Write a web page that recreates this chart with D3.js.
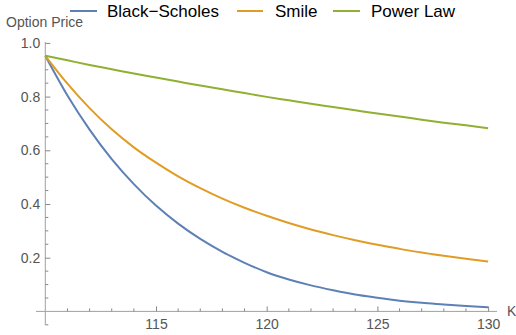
<!DOCTYPE html>
<html><head><meta charset="utf-8">
<script src="https://cdn.jsdelivr.net/npm/d3@7"></script>
<style>body{margin:0;background:#fff}svg{display:block}</style>
</head><body>
<svg id="c" width="516" height="335"></svg>
<script>
const strikes = [110,111,112,113,114,115,116,117,118,119,120,121,122,123,124,125,126,127,128,129,130];
const blackScholes = [0.952,0.804,0.677,0.567,0.474,0.394,0.327,0.270,0.222,0.181,0.146,0.119,0.097,0.079,0.063,0.051,0.040,0.032,0.026,0.020,0.015];
const smile = [0.952,0.848,0.757,0.678,0.611,0.554,0.503,0.459,0.420,0.386,0.356,0.329,0.305,0.284,0.265,0.248,0.233,0.219,0.207,0.196,0.186];
const powerLaw = [0.952,0.935,0.918,0.902,0.886,0.871,0.856,0.841,0.827,0.813,0.799,0.786,0.773,0.761,0.749,0.737,0.726,0.714,0.703,0.693,0.682];
const seriesNames = ["Black\u2212Scholes","Smile","Power Law"];
const seriesColors = ["#5E81B5","#E19C24","#8FB032"];
const xMajor = [115,120,125,130];
const yMajor = [0.2,0.4,0.6,0.8,1.0];

const svg = d3.select("#c");
const x = d3.scaleLinear().domain([110,130]).range([45.3,488.1]);
const y = d3.scaleLinear().domain([0,1]).range([311.4,42.9]);
const axisColor = "#a0a0a0", labelColor = "#555";
const font = "'Liberation Sans', Arial, sans-serif";

// axis lines
svg.append("line").attr("x1",36).attr("x2",497).attr("y1",y(0)).attr("y2",y(0))
  .attr("stroke",axisColor).attr("stroke-width",1);
svg.append("line").attr("x1",x(110)).attr("x2",x(110)).attr("y1",y(1.003)).attr("y2",y(-0.05))
  .attr("stroke",axisColor).attr("stroke-width",1);

// x axis ticks
const xMinor = d3.range(111,131,1).filter(v=>v%5!==0);
const xAx = svg.append("g").attr("transform",`translate(0,${y(0)})`);
xAx.call(d3.axisBottom(x).tickValues(xMajor).tickSizeInner(-5).tickSizeOuter(0).tickPadding(8).tickFormat(d3.format("d")));
xAx.select(".domain").remove();
xAx.selectAll(".tick line").attr("stroke","#888");
xAx.selectAll("text").attr("fill",labelColor).style("font-family",font).style("font-size","14px");
xAx.selectAll(".minor").data(xMinor).enter().append("line")
  .attr("x1",d=>x(d)).attr("x2",d=>x(d)).attr("y1",0).attr("y2",-3).attr("stroke","#888");

// y axis ticks
const yMinorVals = d3.range(-1,20,1).map(i=>i*0.05).filter(v=>Math.abs(Math.round(v*20)%4)!==0);
const yAx = svg.append("g").attr("transform",`translate(${x(110)},0)`);
yAx.call(d3.axisLeft(y).tickValues(yMajor).tickSizeInner(-5).tickSizeOuter(0).tickPadding(5).tickFormat(d3.format(".1f")));
yAx.select(".domain").remove();
yAx.selectAll(".tick line").attr("stroke","#888");
yAx.selectAll("text").attr("fill",labelColor).style("font-family",font).style("font-size","14px");
yAx.selectAll(".minor").data(yMinorVals).enter().append("line")
  .attr("x1",0).attr("x2",3).attr("y1",d=>y(d)).attr("y2",d=>y(d)).attr("stroke","#888");

// axis labels
svg.append("text").attr("x",6).attr("y",27.3).attr("fill",labelColor)
  .style("font-family",font).style("font-size","14px").text("Option Price");
svg.append("text").attr("x",507).attr("y",316).attr("fill",labelColor)
  .style("font-family",font).style("font-size","14px").text("K");

// lines
const data = [blackScholes,smile,powerLaw];
const line = d3.line().x((d,i)=>x(strikes[i])).y(d=>y(d)).curve(d3.curveMonotoneX);
data.forEach((s,k)=>{
  svg.append("path").attr("d",line(s)).attr("fill","none")
    .attr("stroke",seriesColors[k]).attr("stroke-width",2);
});

// legend
const legX = [[70,97,107],[237,263,275],[333,360,371]];
seriesNames.forEach((n,k)=>{
  svg.append("line").attr("x1",legX[k][0]).attr("x2",legX[k][1]).attr("y1",11).attr("y2",11)
    .attr("stroke",seriesColors[k]).attr("stroke-width",2);
  svg.append("text").attr("x",legX[k][2]).attr("y",17.3).attr("fill","#000")
    .style("font-family",font).style("font-size","17px").text(n);
});
</script>
</body></html>
